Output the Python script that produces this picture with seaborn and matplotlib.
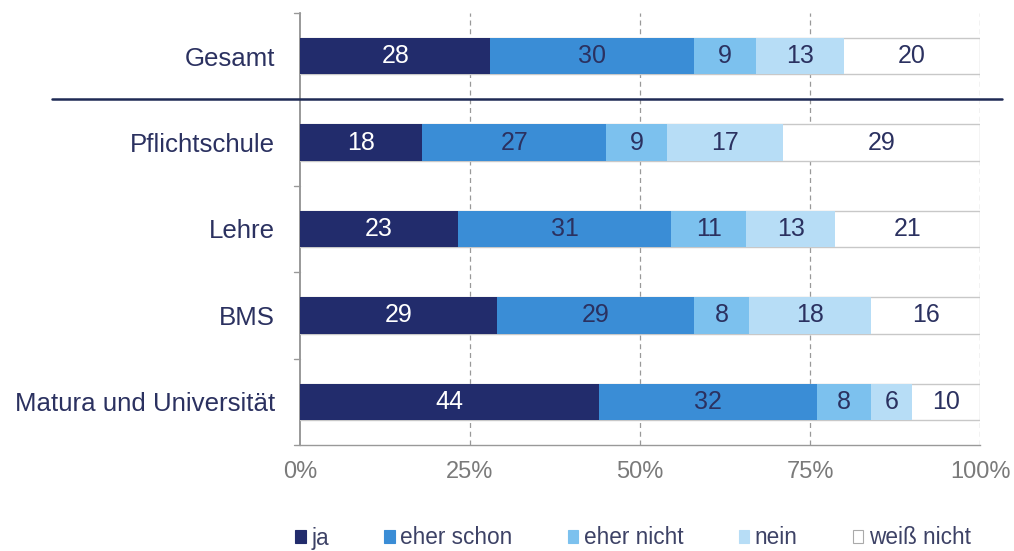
import matplotlib
matplotlib.use("Agg")
import matplotlib.pyplot as plt
import seaborn as sns
import numpy as np
import pandas as pd
from matplotlib.patches import Patch

categories = ["Gesamt", "Pflichtschule", "Lehre", "BMS", "Matura und Universität"]
series = ["ja", "eher schon", "eher nicht", "nein", "weiß nicht"]
ja = [28, 18, 23.2, 29, 44]
eher_schon = [30, 27, 31.4, 29, 32]
eher_nicht = [9, 9, 11.0, 8, 8]
nein = [13, 17, 13.1, 18, 6]
weiss_nicht = [20, 29, 21.3, 16, 10]
xticks = [0, 25, 50, 75, 100]
xticklabels = ["0%", "25%", "50%", "75%", "100%"]

colors = ["#222c6c", "#3a8dd6", "#7cc1ee", "#b7ddf6", "#ffffff"]
txtcolors = ["#ffffff", "#2b3160", "#2b3160", "#2b3160", "#2b3160"]

sns.set_theme(style="white")
plt.rcParams["font.family"] = ["Liberation Sans", "DejaVu Sans"]

vals = np.array([ja, eher_schon, eher_nicht, nein, weiss_nicht], dtype=float)
cum = np.cumsum(vals, axis=0)

fig = plt.figure(figsize=(10.14, 5.51), dpi=100)
ax = fig.add_axes([300/1014, 1-445/551, 680/1014, (445-13)/551])

for i in range(len(series) - 1, -1, -1):
    df = pd.DataFrame({"cat": categories, "val": cum[i]})
    sns.barplot(data=df, x="val", y="cat", orient="h", ax=ax, color=colors[i],
                width=0.42, edgecolor="#c8c8c8" if i == 4 else colors[i],
                linewidth=1 if i == 4 else 0, saturation=1, zorder=3)

for i in range(len(series)):
    starts = cum[i] - vals[i]
    for j, c in enumerate(categories):
        ax.text(starts[j] + vals[i][j] / 2, j, f"{int(round(vals[i][j]))}", ha="center",
                va="center", color=txtcolors[i], fontsize=18, zorder=5)

ax.set_xlim(0, 100)
ax.set_ylim(4.5, -0.5)
ax.set_xticks(xticks)
ax.set_xticklabels(xticklabels, fontsize=17, color="#7a7a7a")
ax.set_yticks(range(len(categories)))
ax.set_yticklabels(categories, fontsize=18.6, color="#2b3160")
ax.tick_params(axis="y", length=0, pad=18)
ax.tick_params(axis="x", length=5, color="#888888", pad=9, direction="inout")
ax.set_xlabel("")
ax.set_ylabel("")
for xv in xticks[1:]:
    ax.axvline(xv, color="#999999", linestyle=(0, (4, 3)), linewidth=0.9, zorder=1)
# small y ticks at category boundaries
for yb in [-0.5, 1.5, 2.5, 3.5, 4.5]:
    ax.plot([-0.9, 0], [yb, yb], color="#999999", lw=1, clip_on=False, zorder=4)

for s in ["top", "right"]:
    ax.spines[s].set_visible(False)
ax.spines["left"].set_color("#888888")
ax.spines["left"].set_linewidth(1.2)
ax.spines["bottom"].set_color("#999999")
ax.spines["bottom"].set_linestyle((0, (2, 1)))
ax.spines["bottom"].set_linewidth(1)

# separator line between Gesamt and the rest
ax.plot([-36.4, 103.2], [0.5, 0.5], color="#1f2a55", lw=1.8, clip_on=False, zorder=6)

handles = [Patch(facecolor=colors[i], edgecolor="#aaaaaa" if i == 4 else colors[i],
                 linewidth=0.8) for i in range(len(series))]
leg = fig.legend(handles, series, loc="center", bbox_to_anchor=(633/1014, 1-538/551),
                 ncol=5, frameon=False, fontsize=16.3, handlelength=0.45, handleheight=0.45,
                 handletextpad=0.25, columnspacing=2.45, labelcolor="#3d4266")

fig.savefig("out.png", dpi=100)
